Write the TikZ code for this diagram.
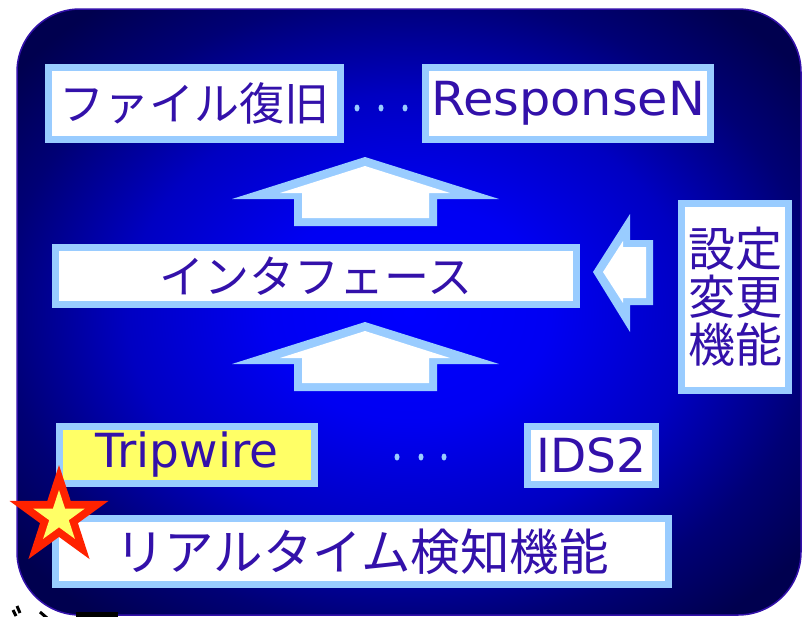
\documentclass[tikz,border=0pt]{standalone}
\usepackage{fontspec}
\newfontfamily\jpf{Noto Sans CJK JP}
\newfontfamily\latf{DejaVu Sans}
\definecolor{txt}{RGB}{51,17,170}
\definecolor{lb}{RGB}{153,204,255}
\definecolor{yel}{RGB}{255,255,102}
\definecolor{starred}{RGB}{255,34,0}
\pgfdeclareradialshading{bgshade}{\pgfpoint{0bp}{0bp}}{rgb(0bp)=(0,0,1); rgb(9bp)=(0,0,0.95); rgb(18bp)=(0,0,0.76); rgb(26bp)=(0,0,0.46); rgb(32bp)=(0,0,0.31); rgb(50bp)=(0,0,0.28)}
\tikzset{
  box/.style={draw=lb, line width=7, fill=white, inner sep=0, text=txt},
  jptext/.style={font=\jpf\fontsize{45}{48}\selectfont},
  latext/.style={font=\latf\fontsize{47}{50}\selectfont},
  dotmark/.style={fill=lb},
  arrowout/.style={fill=lb},
  arrowin/.style={fill=white},
  frag/.style={black, line width=3},
}
\begin{document}
\begin{tikzpicture}[x=1pt,y=-1pt]
\useasboundingbox (0,0) rectangle (803,616);
% background panel
\shade[shading=bgshade, draw=txt, line width=1.5, rounded corners=63] (17,9) rectangle (801,615);

% top row
\node[box, jptext, minimum width=292, minimum height=72] (frec) at (194.5,103.5) {ファイル復旧};
\node[box, latext, xscale=1.05, minimum width=271, minimum height=72] (respn) at (568,103.5) {ResponseN};
\fill[dotmark] (357,108) ellipse (2.5 and 3.5);
\fill[dotmark] (381,108) ellipse (2.5 and 3.5);
\fill[dotmark] (405,108) ellipse (2.5 and 3.5);

% up arrow 1
\fill[arrowout] (365,157) -- (499,199) -- (437,199) -- (437,226) -- (294,226) -- (294,199) -- (232,199) -- cycle;
\fill[arrowin] (365,166) -- (450,193) -- (429,193) -- (429,218) -- (302,218) -- (302,193) -- (280,193) -- cycle;

% interface
\node[box, jptext, minimum width=521, minimum height=57] (iface) at (316,276) {インタフェース};

% left arrow
\fill[arrowout] (593,272) -- (630,214) -- (630,240) -- (653,240) -- (653,305) -- (630,305) -- (630,332) -- cycle;
\fill[arrowin] (603,272) -- (623,241) -- (623,247) -- (646,247) -- (646,298) -- (623,298) -- (623,303) -- cycle;

% settings box
\node[box, font=\jpf\fontsize{47}{48}\selectfont, align=center, minimum width=107, minimum height=187] (conf) at (735,297) {設定\\変更\\機能};

% up arrow 2
\fill[arrowout] (365,322) -- (499,364) -- (437,364) -- (437,391) -- (294,391) -- (294,364) -- (232,364) -- cycle;
\fill[arrowin] (365,331) -- (450,358) -- (429,358) -- (429,383) -- (302,383) -- (302,358) -- (280,358) -- cycle;

% detectors row
\node[box, latext, fill=yel, minimum width=255, minimum height=57] (trip) at (187,455) {Tripwire};
\node[box, latext, minimum width=128, minimum height=58] (ids) at (591.5,455.5) {IDS2};
\fill[dotmark] (397,457) ellipse (2.5 and 3.5);
\fill[dotmark] (421,457) ellipse (2.5 and 3.5);
\fill[dotmark] (444,457) ellipse (2.5 and 3.5);

% realtime detection
\node[box, font=\jpf\fontsize{49.5}{52}\selectfont, minimum width=613, minimum height=66] (rt) at (362,551.5) {リアルタイム検知機能};

% star
\begin{scope}[shift={(59,517)}]
\fill[starred] (270:52) -- (306:19.9) -- (342:52) -- (18:19.9) -- (54:52) -- (90:19.9) -- (126:52) -- (162:19.9) -- (198:52) -- (234:19.9) -- cycle;
\fill[yel] (270:27) -- (306:10.3) -- (342:27) -- (18:10.3) -- (54:27) -- (90:10.3) -- (126:27) -- (162:10.3) -- (198:27) -- (234:10.3) -- cycle;
\end{scope}

% cut-off fragment at the bottom edge
\begin{scope}
\clip (0,0) rectangle (803,616);
\draw[frag] (13,610) -- (16,616);
\draw[frag] (17,606) -- (20,613);
\draw[frag] (40,612) -- (47,618);
\fill[black] (76,612) rectangle (118,620);
\end{scope}
\end{tikzpicture}
\end{document}
